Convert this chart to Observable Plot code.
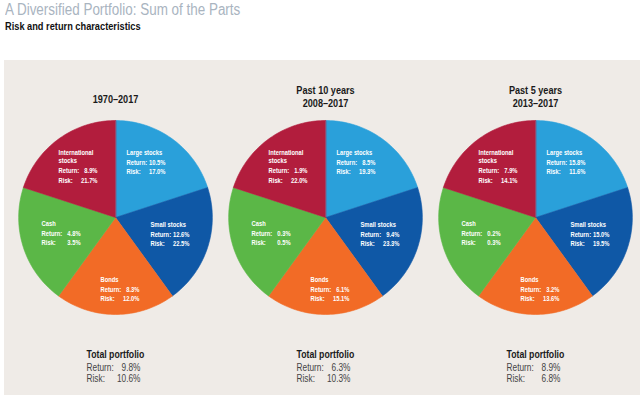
<!DOCTYPE html>
<html>
<head>
<meta charset="utf-8">
<script src="https://cdn.jsdelivr.net/npm/d3@7"></script>
<script src="https://cdn.jsdelivr.net/npm/@observablehq/plot@0.6"></script>
<style>
  html, body { margin: 0; padding: 0; background: #ffffff; }
  #hdr { position: relative; height: 60px; width: 640px; }
  #title { position: absolute; left: 5px; top: 1px; font-family: "Liberation Sans", Arial, sans-serif; font-size: 16px; line-height: 18px; color: #a9b4bf; white-space: nowrap; transform: scaleX(0.84); transform-origin: 0 0; }
  #subtitle { position: absolute; left: 5px; top: 20px; font-family: "Liberation Sans", Arial, sans-serif; font-weight: bold; font-size: 11px; line-height: 13px; color: #111; white-space: nowrap; transform: scaleX(0.84); transform-origin: 0 0; }
  #panel { margin-left: 4px; width: 636px; height: 335px; background: #efebe7; }
  #panel svg { display: block; background: transparent; }
</style>
</head>
<body>
<div id="hdr">
  <div id="title">A Diversified Portfolio: Sum of the Parts</div>
  <div id="subtitle">Risk and return characteristics</div>
</div>
<div id="panel"></div>
<script>
// ---------- data ----------
const periods = ["1970–2017", "2008–2017", "2013–2017"];
const periodTitles = [["1970–2017"], ["Past 10 years", "2008–2017"], ["Past 5 years", "2013–2017"]];
const assets = ["Large stocks", "Small stocks", "Bonds", "Cash", "International stocks"];
const assetLabels = [["Large stocks"], ["Small stocks"], ["Bonds"], ["Cash"], ["International", "stocks"]];
const weights = [20, 20, 20, 20, 20];
const assetReturn = [
  [10.5, 12.6, 8.3, 4.8, 8.9],
  [8.5, 9.4, 6.1, 0.3, 1.9],
  [15.8, 15.0, 3.2, 0.2, 7.9]
];
const assetRisk = [
  [17.0, 22.5, 12.0, 3.5, 21.7],
  [19.3, 23.3, 15.1, 0.5, 22.0],
  [11.6, 19.5, 13.6, 0.3, 14.1]
];
const totalReturn = [9.8, 6.3, 8.9];
const totalRisk = [10.6, 10.3, 6.8];
const colors = ["#2aa0da", "#0f58a6", "#f26b26", "#5bb747", "#b21d3d"];

// ---------- layout (pixels, relative to each pie centre) ----------
const R = 97;
const labelPos = {
  "Large stocks": [11, -65],
  "Small stocks": [35, 7],
  "Bonds": [-15, 62],
  "Cash": [-74, 6],
  "International stocks": [-57, -65]
};
const valueCol = 39;
const font = "Liberation Sans, Arial, sans-serif";
const squeeze = 0.83;

// ---------- wedge geometry from weights via d3.pie ----------
const arcs = d3.pie().sort(null).startAngle(0).endAngle(2 * Math.PI)(weights);
const wedges = [];
periods.forEach((p) => {
  arcs.forEach((a, j) => {
    const key = p + "|" + assets[j];
    wedges.push({period: p, asset: assets[j], key, x: 0, y: 0});
    const n = 48;
    for (let k = 0; k <= n; k++) {
      const t = a.startAngle + (a.endAngle - a.startAngle) * k / n;
      wedges.push({period: p, asset: assets[j], key, x: R * Math.sin(t), y: -R * Math.cos(t)});
    }
  });
});

// ---------- text rows ----------
const nameRows = [], keyRows = [], valRows = [];
periods.forEach((p, i) => {
  assets.forEach((a, j) => {
    const [lx, ly] = labelPos[a];
    let y = ly;
    assetLabels[j].forEach((s) => {
      nameRows.push({period: p, x: lx, y, text: s});
      y += 8.5;
    });
    y += 1.5;
    keyRows.push({period: p, x: lx, y, text: "Return:"});
    valRows.push({period: p, x: lx + valueCol, y, text: assetReturn[i][j].toFixed(1) + "%"});
    y += 9.5;
    keyRows.push({period: p, x: lx, y, text: "Risk:"});
    valRows.push({period: p, x: lx + valueCol, y, text: assetRisk[i][j].toFixed(1) + "%"});
  });
});
const titleRows = [];
periods.forEach((p, i) => {
  const lines = periodTitles[i];
  const y0 = lines.length === 1 ? -118 : -127;
  lines.forEach((s, k) => titleRows.push({period: p, x: 0, y: y0 + k * 13, text: s}));
});
const totHead = periods.map((p) => ({period: p, x: -29, y: 137, text: "Total portfolio"}));
const totKeys = [], totVals = [];
periods.forEach((p, i) => {
  totKeys.push({period: p, x: -29, y: 150, text: "Return:"});
  totKeys.push({period: p, x: -29, y: 161, text: "Risk:"});
  totVals.push({period: p, x: 25, y: 150, text: totalReturn[i].toFixed(1) + "%"});
  totVals.push({period: p, x: 25, y: 161, text: totalRisk[i].toFixed(1) + "%"});
});

const W = 636, H = 335, ML = 5;
const half = (W - ML) / 3 / 2;
const chart = Plot.plot({
  width: W,
  height: H,
  marginTop: 0, marginBottom: 0, marginLeft: ML, marginRight: 0,
  style: {background: "transparent", overflow: "visible"},
  fx: {domain: periods, padding: 0, axis: null},
  x: {domain: [-half, half], axis: null},
  y: {domain: [178, -157], axis: null},
  color: {domain: assets, range: colors},
  marks: [
    Plot.line(wedges, {fx: "period", x: "x", y: "y", z: "key", fill: "asset", stroke: "asset", strokeWidth: 0.6, curve: "linear-closed"}),
    Plot.text(titleRows, {fx: "period", x: "x", y: "y", text: "text", fontFamily: font, fontWeight: "bold", fontSize: 11, fill: "#1a1a1a"}),
    Plot.text(nameRows, {fx: "period", x: "x", y: "y", text: "text", textAnchor: "start", fontFamily: font, fontWeight: "bold", fontSize: 7, fill: "white"}),
    Plot.text(keyRows, {fx: "period", x: "x", y: "y", text: "text", textAnchor: "start", fontFamily: font, fontWeight: "bold", fontSize: 7, fill: "white"}),
    Plot.text(valRows, {fx: "period", x: "x", y: "y", text: "text", textAnchor: "end", fontFamily: font, fontWeight: "bold", fontSize: 7, fill: "white"}),
    Plot.text(totHead, {fx: "period", x: "x", y: "y", text: "text", textAnchor: "start", fontFamily: font, fontWeight: "bold", fontSize: 10.5, fill: "#1a1a1a"}),
    Plot.text(totKeys, {fx: "period", x: "x", y: "y", text: "text", textAnchor: "start", fontFamily: font, fontSize: 10, fill: "#444"}),
    Plot.text(totVals, {fx: "period", x: "x", y: "y", text: "text", textAnchor: "end", fontFamily: font, fontSize: 10, fill: "#444"})
  ]
});
// condense the text horizontally around its anchor (the reference uses a condensed face)
d3.select(chart).selectAll("text").each(function () {
  const t = this.getAttribute("transform");
  if (t) {
    this.setAttribute("transform", t + ` scale(${squeeze},1)`);
  } else {
    const x = +this.getAttribute("x") || 0;
    this.setAttribute("transform", `matrix(${squeeze},0,0,1,${(1 - squeeze) * x},0)`);
  }
});
document.getElementById("panel").appendChild(chart);
</script>
</body>
</html>
